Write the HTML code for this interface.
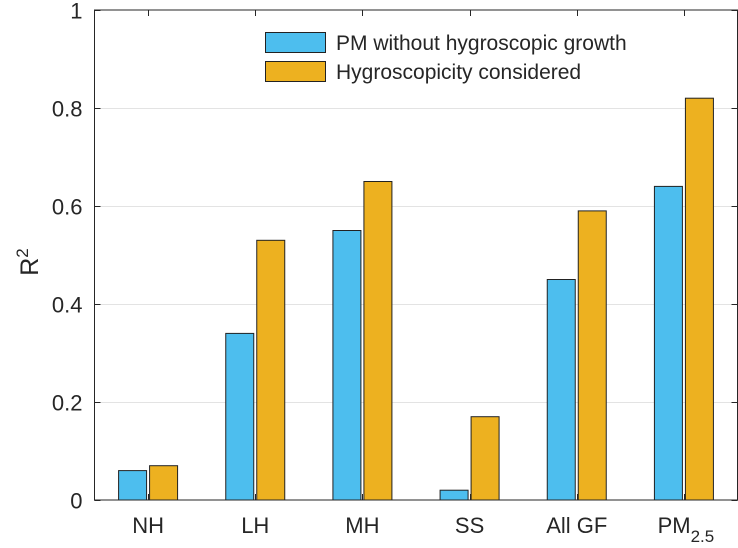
<!DOCTYPE html>
<html><head><meta charset="utf-8"><style>
body{margin:0;background:#fff;}
svg{display:block;font-family:"Liberation Sans",Arial,sans-serif;}
</style></head><body>
<svg id="chart" width="738" height="548" viewBox="0 0 738 548">
<g id="grid"></g>
<g id="bars"></g>
<g id="axes"></g>
<text transform="translate(38,262) rotate(-90)" text-anchor="middle" font-size="25" fill="#262626">R<tspan dy="-10" font-size="17">2</tspan></text>
<g>
<rect x="265.5" y="32.5" width="60" height="20" fill="#4DBEEE" stroke="#222" stroke-width="1"/>
<text x="336" y="50" font-size="21" fill="#262626">PM without hygroscopic growth</text>
<rect x="265.5" y="61.5" width="60" height="20" fill="#EDB120" stroke="#222" stroke-width="1"/>
<text x="336" y="79" font-size="21" fill="#262626">Hygroscopicity considered</text>
</g>
</svg>
<script>
const categories=["NH","LH","MH","SS","All GF","PM2.5"];
const seriesPM=[0.06,0.34,0.55,0.02,0.45,0.64];
const seriesHygro=[0.07,0.53,0.65,0.17,0.59,0.82];
const yTicks=[0,0.2,0.4,0.6,0.8,1];
const yTickLabels=["0","0.2","0.4","0.6","0.8","1"];
const NS="http://www.w3.org/2000/svg";
const L=94.5,R=737.5,T=10,B=500;
const xs=i=>L+(i+0.5)*(R-L)/categories.length;
const ys=v=>B-(B-T)*v;
function mk(tag,attrs,parent){const e=document.createElementNS(NS,tag);for(const k in attrs)e.setAttribute(k,attrs[k]);parent.appendChild(e);return e;}
const grid=document.getElementById('grid'),bars=document.getElementById('bars'),axes=document.getElementById('axes');
yTicks.forEach((t,i)=>{
  const y=Math.round(ys(t))+0.5;
  if(t>0&&t<1){const g=mk('line',{x1:L,x2:R,y1:y,y2:y,stroke:'#e3e3e3','stroke-width':1},grid);
  
  }
  const tk=mk('line',{x1:L,x2:L+6,y1:y,y2:y,stroke:'#262626'},axes);
  
  
  const tk2=mk('line',{x1:R-6,x2:R,y1:y,y2:y,stroke:'#262626'},axes);
  
  
  const lb=mk('text',{x:L-12,y:y+8,'text-anchor':'end','font-size':22,fill:'#262626'},axes);
  lb.textContent=yTickLabels[i];
  
  
});
const bw=28,gap=3;
categories.forEach((c,i)=>{
  const cx=xs(i);
  const b1=mk('rect',{x:cx-gap/2-bw,y:ys(seriesPM[i]),width:bw,height:B-ys(seriesPM[i]),fill:'#4DBEEE',stroke:'#222','stroke-width':1},bars);
  
  
  const b2=mk('rect',{x:cx+gap/2,y:ys(seriesHygro[i]),width:bw,height:B-ys(seriesHygro[i]),fill:'#EDB120',stroke:'#222','stroke-width':1},bars);
  
  
  const tx=Math.round(cx)+0.5;
  const t1=mk('line',{x1:tx,x2:tx,y1:B,y2:B-6,stroke:'#262626'},axes);
  
  
  const t2=mk('line',{x1:tx,x2:tx,y1:T,y2:T+6,stroke:'#262626'},axes);
  
  
  const lb=mk('text',{x:cx,y:533,'text-anchor':'middle','font-size':22,fill:'#262626'},axes);
  
  
  if(c==="PM2.5"){lb.innerHTML='PM<tspan dy="9" font-size="17">2.5</tspan>';lb.setAttribute('x',cx+2);}
  else lb.textContent=c;
});
const box=mk('rect',{x:L,y:T,width:R-L,height:B-T,fill:'none',stroke:'#262626','stroke-width':1},axes);


</script>
</body></html>
